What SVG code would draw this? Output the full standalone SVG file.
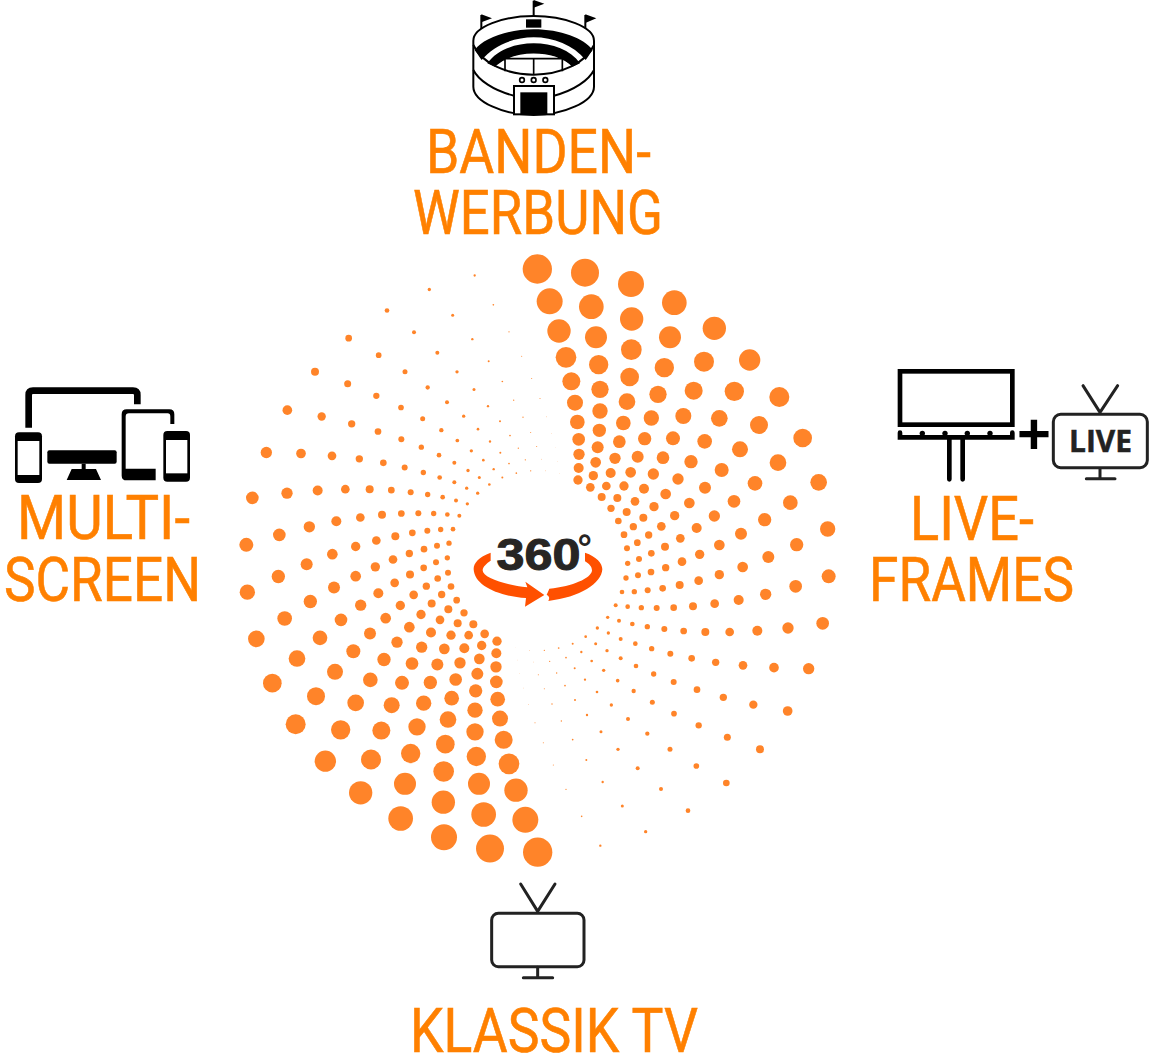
<svg xmlns="http://www.w3.org/2000/svg" xmlns:xlink="http://www.w3.org/1999/xlink" width="1154" height="1063" viewBox="0 0 1154 1063">
<style>
.lbl{font-family:"Roboto","Liberation Sans",sans-serif;font-size:62px;fill:#ff8000;stroke:#ff8000;stroke-width:.6px}
.dots circle{fill:#ff8429}
.ln{fill:none;stroke:#000}
.tv{fill:none;stroke:#222;stroke-width:9;stroke-linecap:round;stroke-linejoin:round}
.k{fill:#000}
.w{fill:#fff}
.sw{fill:#ff5000}
</style>
<defs>
<g id="half" class="dots">
<g transform="translate(520 250) scale(.33333)">
<circle cx="52" cy="57" r="44"/><circle cx="89" cy="154" r="39"/><circle cx="117" cy="243" r="35"/><circle cx="138" cy="322" r="31"/><circle cx="154" cy="394" r="27"/><circle cx="165" cy="458" r="24"/><circle cx="172" cy="516" r="22"/><circle cx="176" cy="568" r="19"/><circle cx="177" cy="613" r="17"/><circle cx="176" cy="654" r="15"/><circle cx="174" cy="690" r="14"/>
<circle cx="195" cy="68" r="42"/><circle cx="214" cy="170" r="37"/><circle cx="228" cy="262" r="33"/><circle cx="236" cy="344" r="29"/><circle cx="240" cy="418" r="26"/><circle cx="240" cy="483" r="23"/><circle cx="238" cy="541" r="20"/><circle cx="233" cy="592" r="18"/><circle cx="227" cy="637" r="16"/><circle cx="220" cy="677" r="14"/><circle cx="211" cy="712" r="13"/>
<circle cx="333" cy="102" r="39"/><circle cx="335" cy="207" r="35"/><circle cx="334" cy="299" r="31"/><circle cx="329" cy="381" r="28"/><circle cx="321" cy="455" r="25"/><circle cx="310" cy="519" r="22"/><circle cx="298" cy="575" r="19"/><circle cx="285" cy="625" r="17"/><circle cx="272" cy="669" r="15"/><circle cx="259" cy="708" r="13"/><circle cx="245" cy="741" r="12"/>
<circle cx="463" cy="158" r="37"/><circle cx="450" cy="262" r="33"/><circle cx="433" cy="353" r="29"/><circle cx="414" cy="433" r="26"/><circle cx="394" cy="504" r="23"/><circle cx="374" cy="566" r="20"/><circle cx="353" cy="620" r="18"/><circle cx="332" cy="667" r="16"/><circle cx="312" cy="708" r="14"/><circle cx="292" cy="744" r="12"/><circle cx="273" cy="775" r="11"/>
<circle cx="583" cy="235" r="35"/><circle cx="552" cy="335" r="30"/><circle cx="521" cy="422" r="27"/><circle cx="490" cy="498" r="24"/><circle cx="459" cy="565" r="21"/><circle cx="429" cy="623" r="19"/><circle cx="400" cy="672" r="17"/><circle cx="372" cy="716" r="15"/><circle cx="345" cy="754" r="13"/><circle cx="320" cy="786" r="12"/><circle cx="295" cy="813" r="10"/>
<circle cx="689" cy="330" r="32"/><circle cx="643" cy="424" r="29"/><circle cx="598" cy="505" r="25"/><circle cx="554" cy="574" r="22"/><circle cx="513" cy="635" r="20"/><circle cx="474" cy="687" r="17"/><circle cx="437" cy="732" r="16"/><circle cx="402" cy="770" r="14"/><circle cx="370" cy="803" r="12"/><circle cx="340" cy="830" r="11"/><circle cx="312" cy="854" r="10"/>
<circle cx="778" cy="441" r="30"/><circle cx="717" cy="525" r="27"/><circle cx="660" cy="598" r="24"/><circle cx="605" cy="660" r="21"/><circle cx="555" cy="713" r="18"/><circle cx="508" cy="759" r="16"/><circle cx="464" cy="797" r="14"/><circle cx="424" cy="829" r="13"/><circle cx="386" cy="855" r="11"/><circle cx="352" cy="878" r="10"/><circle cx="321" cy="895" r="9"/>
<circle cx="848" cy="564" r="28"/><circle cx="774" cy="638" r="25"/><circle cx="705" cy="700" r="22"/><circle cx="642" cy="754" r="19"/><circle cx="583" cy="798" r="17"/><circle cx="530" cy="834" r="15"/><circle cx="481" cy="865" r="13"/><circle cx="435" cy="890" r="12"/>
<circle cx="896" cy="697" r="25"/><circle cx="811" cy="758" r="22"/><circle cx="734" cy="809" r="20"/><circle cx="663" cy="851" r="18"/><circle cx="598" cy="885" r="16"/>
<circle cx="923" cy="837" r="23"/><circle cx="830" cy="884" r="20"/>
</g>
<g transform="translate(520 540) scale(.33333)">
<circle cx="394" cy="40" r="10"/><circle cx="357" cy="57" r="9"/><circle cx="323" cy="70" r="8"/>
<circle cx="539" cy="43" r="14"/><circle cx="486" cy="65" r="13"/><circle cx="437" cy="83" r="11"/><circle cx="393" cy="96" r="10"/><circle cx="354" cy="106" r="9"/><circle cx="318" cy="114" r="8"/>
<circle cx="745" cy="51" r="18"/><circle cx="668" cy="81" r="16"/><circle cx="598" cy="104" r="14"/><circle cx="536" cy="122" r="13"/><circle cx="479" cy="135" r="12"/><circle cx="428" cy="145" r="10"/><circle cx="383" cy="151" r="9"/><circle cx="343" cy="155" r="8"/><circle cx="306" cy="156" r="7"/>
<circle cx="926" cy="109" r="21"/><circle cx="827" cy="139" r="19"/><circle cx="737" cy="163" r="17"/><circle cx="656" cy="180" r="15"/><circle cx="584" cy="191" r="13"/><circle cx="519" cy="199" r="12"/><circle cx="461" cy="203" r="10"/><circle cx="410" cy="204" r="9"/><circle cx="364" cy="203" r="8"/><circle cx="323" cy="200" r="7"/><circle cx="287" cy="196" r="6"/>
<circle cx="908" cy="250" r="19"/><circle cx="804" cy="264" r="17"/><circle cx="712" cy="272" r="15"/><circle cx="629" cy="276" r="13"/><circle cx="556" cy="276" r="12"/><circle cx="491" cy="273" r="10"/><circle cx="433" cy="267" r="9"/><circle cx="382" cy="260" r="8"/><circle cx="337" cy="252" r="7"/><circle cx="297" cy="242" r="6"/><circle cx="263" cy="232" r="5"/>
<circle cx="866" cy="386" r="17"/><circle cx="762" cy="383" r="14.5"/><circle cx="669" cy="376" r="13"/><circle cx="587" cy="367" r="11"/><circle cx="515" cy="355" r="10"/><circle cx="451" cy="341" r="9"/><circle cx="395" cy="326" r="8"/><circle cx="346" cy="311" r="7"/><circle cx="302" cy="297" r="6"/><circle cx="265" cy="279" r="5"/><circle cx="232" cy="264" r="5"/>
<circle cx="803" cy="513" r="14.5"/><circle cx="700" cy="494" r="12.5"/><circle cx="610" cy="472" r="11"/><circle cx="531" cy="449" r="10"/><circle cx="461" cy="426" r="9"/><circle cx="401" cy="402" r="8"/><circle cx="348" cy="378" r="7"/><circle cx="302" cy="355" r="6"/><circle cx="261" cy="332" r="5"/><circle cx="227" cy="311" r="4.5"/><circle cx="197" cy="290" r="4"/>
<circle cx="720" cy="628" r="12"/><circle cx="622" cy="592" r="10.5"/><circle cx="536" cy="556" r="9.5"/><circle cx="462" cy="521" r="8.5"/><circle cx="397" cy="487" r="7.5"/><circle cx="341" cy="453" r="6.5"/><circle cx="293" cy="422" r="5.5"/><circle cx="251" cy="391" r="5"/><circle cx="215" cy="363" r="4"/><circle cx="184" cy="336" r="3.5"/><circle cx="158" cy="311" r="3"/>
<circle cx="619" cy="729" r="10"/><circle cx="529" cy="678" r="8.5"/><circle cx="450" cy="628" r="7.5"/><circle cx="382" cy="581" r="6.5"/><circle cx="324" cy="537" r="6"/><circle cx="274" cy="495" r="5"/><circle cx="231" cy="456" r="4"/><circle cx="195" cy="419" r="3.5"/><circle cx="164" cy="385" r="3"/><circle cx="138" cy="353" r="2.5"/><circle cx="116" cy="324" r="2.5"/>
<circle cx="504" cy="812" r="7"/><circle cx="423" cy="747" r="6"/><circle cx="353" cy="685" r="6"/><circle cx="294" cy="628" r="5"/><circle cx="243" cy="575" r="4.5"/><circle cx="201" cy="525" r="3.5"/><circle cx="165" cy="480" r="3"/><circle cx="135" cy="437" r="2.5"/><circle cx="110" cy="399" r="2"/><circle cx="89" cy="364" r="2"/><circle cx="73" cy="331" r="2"/>
<circle cx="377" cy="875" r="5"/><circle cx="307" cy="798" r="4.5"/><circle cx="248" cy="726" r="3.5"/><circle cx="199" cy="660" r="3"/><circle cx="158" cy="599" r="2.5"/><circle cx="124" cy="543" r="2"/><circle cx="96" cy="492" r="2"/><circle cx="73" cy="446" r="1.5"/><circle cx="55" cy="404" r="1.5"/><circle cx="40" cy="366" r="1"/><circle cx="29" cy="331" r="1"/>
<circle cx="241" cy="917" r="3.5"/><circle cx="185" cy="829" r="2.5"/><circle cx="138" cy="748" r="2"/><circle cx="100" cy="675" r="1.5"/><circle cx="70" cy="608" r="1.5"/><circle cx="45" cy="548" r="1.5"/><circle cx="25" cy="493" r="1"/><circle cx="11" cy="444" r=".8"/><circle cx="-2" cy="400" r=".7"/><circle cx="-8" cy="360" r=".6"/><circle cx="-13" cy="323" r=".6"/>
</g>
</g>
</defs>
<g id="spiral">
<use href="#half" xlink:href="#half"/>
<use href="#half" xlink:href="#half" transform="rotate(180 537.5 560.6)"/>
</g>
<g id="center-360">
<text font-family="'Liberation Sans',sans-serif" font-weight="700" fill="#272523"><tspan x="496.5" y="570" font-size="45" textLength="84" lengthAdjust="spacingAndGlyphs" stroke="#272523" stroke-width="1">360</tspan><tspan x="577.5" y="560" font-size="36">°</tspan></text>
<g transform="translate(440 500) scale(.33333)">
<path class="sw" d="M152,158C115,172 100,190 101,208C103,255 170,288 258,294L255,320L313,285L256,245L262,262C190,254 126,232 128,210C129,200 140,190 152,182Z"/>
<path class="sw" d="M435,158C470,170 487,190 487,208C485,250 420,292 325,303Q332,290 320,284Q324,276 328,266C400,258 452,235 456,212C456,200 448,192 435,184Z"/>
</g>
</g>
<g id="node-bandenwerbung">
<g transform="translate(440 0) scale(.33333)">
<path class="k" d="M121,45h6v50h-6zM278,2h6v48h-6zM433,45h6v50h-6z"/>
<path class="k" d="M124,43L156,55L124,67ZM281,0L313,11L281,23ZM436,43L469,55L436,69Z"/>
<path class="w ln" stroke-width="6" d="M100,122C100,80 190,48 281,48C372,48 462,80 462,122V260C462,305 372,345 281,345C190,345 100,305 100,260Z"/>
<path class="ln" stroke-width="6" d="M100,135C125,190 200,224 281,224C362,224 437,190 462,135"/>
<path class="ln" stroke-width="6" d="M100,210C115,240 160,272 222,287M462,210C447,240 402,272 342,287"/>
<path class="k" d="M104,150C130,115 200,88 281,88C362,88 432,115 458,150C450,160 445,170 437,180C400,135 340,112 281,112C222,112 162,135 125,180C117,170 112,160 104,150Z"/>
<path class="k" d="M142,190C170,150 225,130 281,130C337,130 392,150 420,190L398,200C370,170 325,158 281,158C237,158 192,170 164,200Z"/>
<path class="ln" stroke-width="5" d="M165,196C195,170 237,158 281,158C325,158 367,170 397,196M195,176H367M195,176V214M281,176V224M367,176V214"/>
<rect class="k" x="258" y="58" width="46" height="25"/>
<g class="ln" stroke-width="5"><circle cx="246" cy="240" r="7"/><circle cx="281" cy="240" r="7"/><circle cx="316" cy="240" r="7"/></g>
<rect class="w ln" stroke-width="6" x="222" y="258" width="120" height="85"/>
<rect class="k" x="241" y="277" width="81" height="68"/>
</g>
<text class="lbl" x="426" y="173" textLength="225" lengthAdjust="spacingAndGlyphs">BANDEN-</text>
<text class="lbl" x="413" y="234" textLength="250" lengthAdjust="spacingAndGlyphs">WERBUNG</text>
</g>
<g id="node-multiscreen">
<g transform="translate(0 375) scale(.33333)">
<path class="ln" stroke-width="20" d="M86,158V60Q86,47 99,47H399Q412,47 412,60V88"/>
<rect class="k" x="142" y="226" width="208" height="40" rx="6"/>
<path class="k" d="M245,266H257V282H288L303,315H200L215,282H245Z"/>
<rect class="k" x="45" y="172" width="81" height="152" rx="12"/>
<rect class="w" x="53" y="198" width="65" height="102"/>
<path class="k" d="M523,147V118Q523,103 508,103H380Q365,103 365,118V302Q365,316 380,316H467V281H377V125Q377,115 387,115H503Q511,115 511,125V147Z"/>
<rect class="k" x="490" y="168" width="80" height="152" rx="12"/>
<rect class="w" x="498" y="195" width="64" height="100"/>
</g>
<text class="lbl" x="17" y="539" textLength="173" lengthAdjust="spacingAndGlyphs">MULTI-</text>
<text class="lbl" x="4" y="601" textLength="197" lengthAdjust="spacingAndGlyphs">SCREEN</text>
</g>
<g id="node-liveframes">
<g transform="translate(885 360) scale(.33333)">
<rect class="ln" stroke-width="14" x="45" y="34" width="337" height="160"/>
<path class="ln" stroke-width="14" stroke-linecap="round" d="M45,218V232H382V218M193,232V358M233,232V358"/>
<g class="k"><circle cx="112" cy="220" r="8"/><circle cx="180" cy="220" r="8"/><circle cx="247" cy="220" r="8"/><circle cx="315" cy="220" r="8"/></g>
<path class="tv" d="M594,77L645,157L698,77M645,327V354M604,356H690"/>
<rect class="tv" x="505" y="163" width="282" height="160" rx="22"/>
</g>
<text x="1034" y="454" text-anchor="middle" font-family="'Liberation Sans',sans-serif" font-weight="700" font-size="58" fill="#000">+</text>
<text x="1069" y="452.3" textLength="63" lengthAdjust="spacingAndGlyphs" font-family="'Open Sans',sans-serif" font-weight="700" font-size="30" fill="#222" stroke="#222" stroke-width=".5">LIVE</text>
<text class="lbl" x="910" y="540" textLength="124" lengthAdjust="spacingAndGlyphs">LIVE-</text>
<text class="lbl" x="869" y="601" textLength="205" lengthAdjust="spacingAndGlyphs">FRAMES</text>
</g>
<g id="node-klassik-tv">
<g transform="translate(470 870) scale(.33333)">
<path class="tv" d="M152,42L203,124L255,42M203,292V322M160,323H248"/>
<rect class="tv" x="65" y="130" width="277" height="160" rx="20"/>
</g>
<text class="lbl" x="410" y="1052" textLength="288" lengthAdjust="spacingAndGlyphs">KLASSIK TV</text>
</g>
</svg>
